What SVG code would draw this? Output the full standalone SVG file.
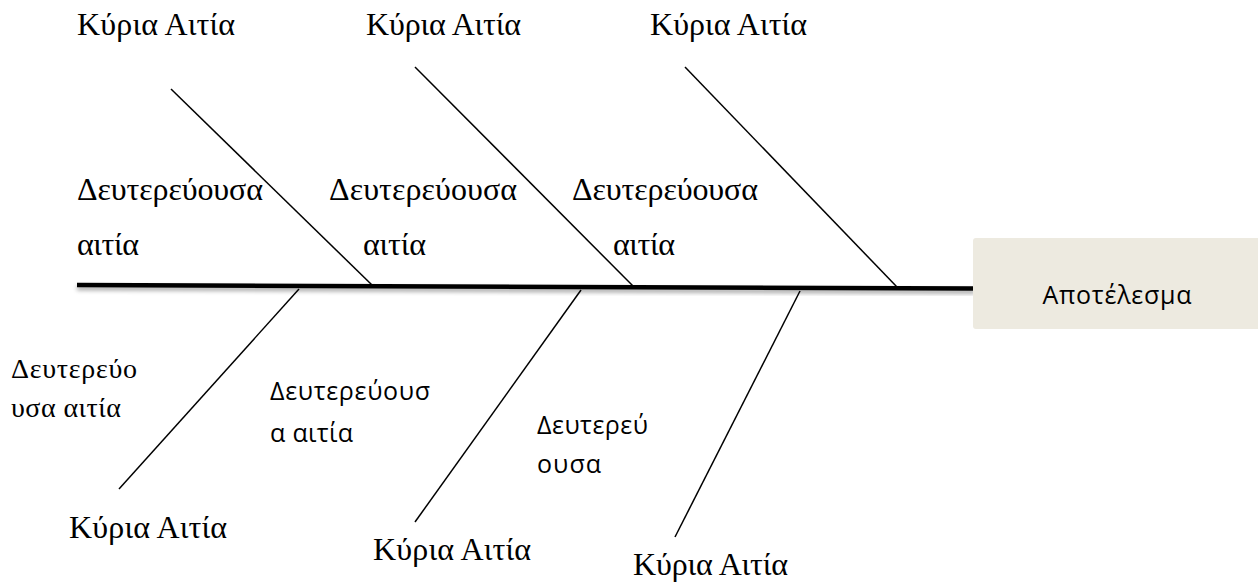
<svg xmlns="http://www.w3.org/2000/svg" width="1258" height="583" viewBox="0 0 1258 583">
  <defs>
    <filter id="spineShadow" x="-5%" y="-200%" width="110%" height="500%">
      <feDropShadow dx="0" dy="3" stdDeviation="2" flood-color="#000" flood-opacity="0.35"/>
    </filter>
  </defs>
  <style>
    .serif { font-family: "Liberation Serif", "DejaVu Serif", serif; font-size: 32px; fill: #000; }
    .serif-sm { font-family: "Liberation Serif", "DejaVu Serif", serif; font-size: 28px; fill: #000; }
    .sans { font-family: "Open Sans", "Liberation Sans", sans-serif; font-size: 25px; fill: #000; }
    .bone { stroke: #000; stroke-width: 1.5; fill: none; }
    .spine { stroke: #000; stroke-width: 4.5; fill: none; }
    .result { fill: #edeae0; }
  </style>

  <!-- spine and bones -->
  <g id="connectors">
    <line class="spine" x1="77" y1="285" x2="975" y2="288.5" filter="url(#spineShadow)"/>
    <line class="bone" x1="171" y1="89" x2="372" y2="285"/>
    <line class="bone" x1="415" y1="67" x2="633" y2="286"/>
    <line class="bone" x1="685" y1="67" x2="897" y2="287"/>
    <line class="bone" x1="299" y1="289" x2="119" y2="489"/>
    <line class="bone" x1="581" y1="290" x2="415" y2="522"/>
    <line class="bone" x1="800" y1="291" x2="675" y2="537"/>
  </g>

  <!-- effect box -->
  <g id="result">
    <rect class="result" x="973" y="238" width="290" height="91" rx="3"/>
    <text class="sans" x="1117" y="304" text-anchor="middle" textLength="149">Αποτέλεσμα</text>
  </g>

  <!-- main causes, top -->
  <g id="cause-top-1"><text class="serif" x="77" y="35" textLength="158">Κύρια Αιτία</text></g>
  <g id="cause-top-2"><text class="serif" x="366" y="35" textLength="155">Κύρια Αιτία</text></g>
  <g id="cause-top-3"><text class="serif" x="650" y="35" textLength="157">Κύρια Αιτία</text></g>

  <!-- secondary causes, top -->
  <g id="sub-top-1">
    <text class="serif" x="77" y="200" textLength="186">Δευτερεύουσα</text>
    <text class="serif" x="77" y="255" textLength="62">αιτία</text>
  </g>
  <g id="sub-top-2">
    <text class="serif" x="329" y="200" textLength="188">Δευτερεύουσα</text>
    <text class="serif" x="363" y="255" textLength="63">αιτία</text>
  </g>
  <g id="sub-top-3">
    <text class="serif" x="572" y="200" textLength="186">Δευτερεύουσα</text>
    <text class="serif" x="613" y="255" textLength="62">αιτία</text>
  </g>

  <!-- secondary causes, bottom -->
  <g id="sub-bottom-1">
    <text class="serif-sm" x="11" y="378" textLength="126">Δευτερεύο</text>
    <text class="serif-sm" x="11" y="417" textLength="110">υσα αιτία</text>
  </g>
  <g id="sub-bottom-2">
    <text class="sans" x="270" y="400" textLength="160">Δευτερεύουσ</text>
    <text class="sans" x="270" y="442" textLength="83">α αιτία</text>
  </g>
  <g id="sub-bottom-3">
    <text class="sans" x="537" y="434" textLength="111">Δευτερεύ</text>
    <text class="sans" x="537" y="473" textLength="64">ουσα</text>
  </g>

  <!-- main causes, bottom -->
  <g id="cause-bottom-1"><text class="serif" x="69" y="538" textLength="158">Κύρια Αιτία</text></g>
  <g id="cause-bottom-2"><text class="serif" x="373" y="560" textLength="158">Κύρια Αιτία</text></g>
  <g id="cause-bottom-3"><text class="serif" x="633" y="575" textLength="155">Κύρια Αιτία</text></g>
</svg>
